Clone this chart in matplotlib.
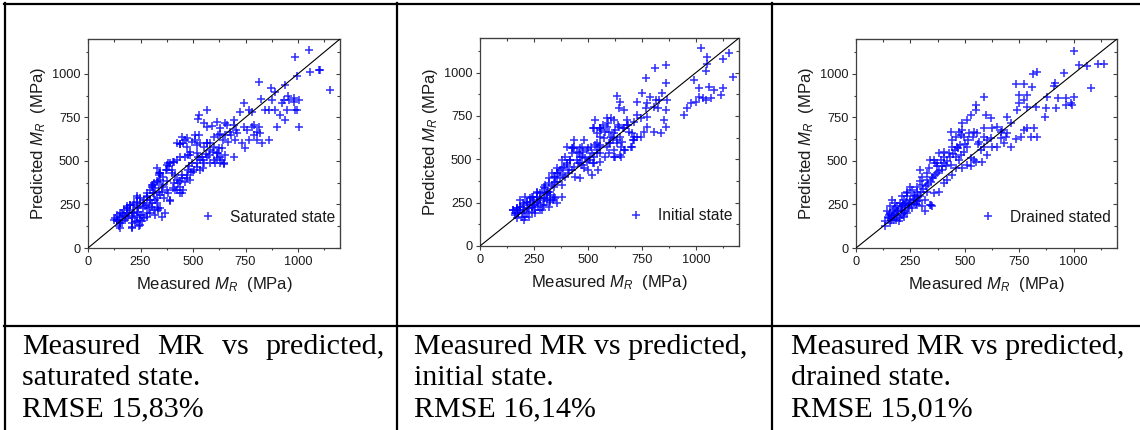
import matplotlib
matplotlib.use('Agg')
import matplotlib.pyplot as plt
from matplotlib.lines import Line2D
from matplotlib.ticker import MultipleLocator, FixedLocator

plt.rcParams['font.family'] = 'Liberation Sans'
plt.rcParams['mathtext.fontset'] = 'custom'
plt.rcParams['mathtext.rm'] = 'Liberation Sans'
plt.rcParams['mathtext.it'] = 'Liberation Sans:italic'

# ---------------- data (Measured MR, Predicted MR) in MPa ----------------
saturated_pts = [
    (1051, 1135), (987, 1097), (1059, 1011), (1098, 1021), (1106, 1021), (995, 987), (1154, 906),
    (813, 954), (870, 916), (940, 935), (890, 897), (825, 853), (876, 849), (952, 872), (955, 849),
    (979, 864), (1003, 849), (979, 840), (932, 849), (924, 830), (948, 792), (844, 792), (860, 792),
    (892, 792), (916, 763), (940, 735), (987, 792), (995, 792), (900, 697), (1003, 697),
    (741, 830), (765, 792), (725, 782), (694, 735), (781, 782), (662, 706), (694, 706), (706, 677),
    (741, 697), (781, 697), (789, 706), (813, 697), (757, 677), (805, 668), (789, 649), (821, 658),
    (765, 620), (805, 620), (749, 573), (733, 601), (829, 601), (860, 620), (710, 658), (683, 649),
    (654, 649), (627, 655), (598, 639), (567, 697), (524, 739), (554, 716), (567, 792), (530, 763),
    (590, 700), (614, 725), (630, 687), (654, 716), (678, 668), (702, 620), (694, 525), (654, 534),
    (638, 573), (622, 573), (598, 582), (583, 563), (614, 544), (563, 540), (543, 525), (535, 506),
    (519, 487), (551, 487), (598, 506), (575, 534), (630, 525), (646, 487), (503, 448), (479, 468),
    (490, 439), (448, 420), (471, 401), (440, 382), (424, 391), (408, 372), (416, 334), (448, 315),
    (376, 382), (352, 353), (337, 324), (360, 286), (392, 267), (344, 229), (321, 277), (313, 372),
    (305, 353), (337, 420), (344, 429), (376, 477), (408, 496), (392, 487), (463, 620), (440, 597),
    (471, 582), (448, 639), (424, 601), (463, 525), (487, 534), (519, 592), (527, 649), (511, 620),
    (487, 553), (551, 582), (567, 601), (424, 506), (440, 525), (400, 448), (370, 448), (384, 468),
    (329, 458), (337, 429), (344, 391), (329, 382), (305, 363), (313, 315), (281, 315), (297, 277),
    (265, 277), (249, 258), (233, 286), (217, 258), (273, 239), (289, 229), (233, 229), (202, 248),
    (186, 229), (170, 219), (154, 200), (138, 191), (146, 162), (162, 153), (186, 172), (210, 181),
    (210, 143), (233, 153), (249, 191), (217, 200), (194, 200), (178, 181), (154, 143), (146, 124),
    (210, 115), (265, 172), (281, 200), (313, 219), (329, 258), (305, 258), (257, 153), (241, 124),
    (233, 296), (281, 296), (186, 239), (162, 200), (130, 172), (138, 153), (122, 162),
    (509, 649), (470, 630), (438, 597), (454, 601), (494, 610), (533, 605), (565, 605), (581, 601),
    (620, 649), (644, 620), (668, 610), (597, 553), (620, 544), (613, 515), (637, 505), (581, 486),
    (605, 486), (629, 486), (648, 482), (549, 505), (565, 524), (518, 544), (525, 524), (478, 534),
    (494, 486), (518, 467), (533, 448), (549, 457), (478, 448), (502, 438), (470, 419), (486, 390),
    (446, 400), (462, 381), (438, 352), (454, 333), (430, 371), (406, 496), (383, 486), (375, 448),
    (398, 429), (414, 419), (343, 429), (359, 409), (335, 381), (359, 362), (375, 333), (351, 323),
    (390, 276), (383, 314), (406, 343), (422, 333), (438, 314), (311, 362), (295, 333), (311, 314),
    (280, 295), (295, 276), (327, 285), (319, 343), (343, 304), (248, 285), (232, 266), (263, 256),
    (216, 247), (240, 237), (263, 228), (280, 247), (303, 237), (335, 228), (200, 218), (184, 199),
    (168, 189), (152, 180), (137, 161), (152, 142), (176, 161), (208, 170), (232, 180), (256, 189),
    (280, 180), (224, 151), (248, 161), (200, 247), (184, 228), (216, 199), (240, 208), (295, 199),
    (319, 189), (335, 218), (351, 180), (367, 199), (208, 123), (152, 113), (248, 132),
]

initial_pts = [
    (1023, 1140), (1155, 1112), (1054, 1088), (1124, 1077), (1054, 1050), (1046, 1012), (992, 958),
    (1171, 977), (860, 1044), (811, 1025), (767, 967), (860, 938), (752, 881), (788, 858), (843, 885),
    (636, 865), (648, 833), (643, 794), (814, 842), (868, 842), (829, 842), (977, 823), (1016, 862),
    (1000, 833), (1016, 910), (1062, 919), (1085, 900), (1124, 910), (1031, 856), (961, 794),
    (946, 756), (1116, 871), (1046, 842), (1070, 852), (729, 833), (667, 785), (775, 823), (767, 794),
    (806, 804), (826, 794), (860, 785), (853, 727), (806, 660), (837, 650), (860, 688), (775, 746),
    (744, 737), (729, 756), (713, 717), (682, 698), (690, 660), (667, 679), (643, 688), (620, 727),
    (605, 737), (589, 688), (558, 679), (527, 679), (535, 727), (561, 669), (744, 631), (713, 631),
    (760, 660), (775, 688), (713, 612), (698, 573), (651, 573), (620, 554), (636, 612), (605, 631),
    (597, 592), (574, 621), (550, 573), (543, 535), (527, 515), (512, 573), (496, 554), (473, 515),
    (457, 535), (465, 563), (434, 573), (426, 535), (419, 496), (403, 477), (388, 458), (372, 438),
    (357, 419), (341, 400), (318, 362), (295, 342), (279, 304), (264, 285), (248, 265), (233, 256),
    (217, 246), (202, 237), (186, 227), (171, 217), (155, 208), (163, 188), (178, 188), (202, 208),
    (225, 217), (248, 237), (264, 256), (279, 265), (295, 275), (310, 304), (326, 313), (341, 342),
    (349, 371), (380, 352), (395, 400), (411, 438), (434, 458), (450, 496), (465, 477), (481, 448),
    (504, 496), (527, 477), (558, 535), (577, 515), (597, 535), (620, 515), (651, 515), (667, 554),
    (217, 188), (194, 169), (171, 160), (186, 265), (209, 285), (240, 285), (264, 313), (302, 352),
    (318, 390), (333, 419), (357, 448), (380, 496), (395, 515), (426, 563), (403, 573), (434, 612),
    (473, 573), (481, 612), (543, 592), (558, 631), (597, 660), (620, 650), (240, 227), (271, 227),
    (310, 265), (287, 208), (256, 188), (225, 169), (202, 150), (326, 265), (341, 285), (380, 285),
    (295, 237), (357, 246), (318, 227),
    (587, 737), (595, 708), (571, 698), (556, 679), (541, 650), (525, 679), (579, 660), (626, 669),
    (641, 698), (664, 679), (687, 698), (680, 727), (649, 631), (618, 621), (633, 593), (657, 602),
    (602, 593), (587, 573), (703, 650), (711, 612), (726, 631), (703, 573), (672, 554), (649, 525),
    (626, 515), (556, 583), (541, 554), (517, 535), (533, 583), (502, 564), (479, 544), (510, 515),
    (487, 506), (463, 515), (432, 564), (448, 544), (417, 496), (456, 477), (471, 467), (494, 486),
    (525, 477), (548, 438), (502, 438), (517, 410), (556, 486), (402, 467), (379, 448), (363, 419),
    (386, 410), (409, 419), (425, 438), (440, 400), (463, 391), (371, 391), (348, 400), (355, 371),
    (332, 352), (301, 333), (309, 304), (286, 313), (263, 304), (278, 275), (247, 284), (301, 275),
    (324, 294), (340, 265), (317, 313), (232, 275), (216, 256), (201, 246), (185, 227), (170, 217),
    (154, 208), (177, 189), (201, 198), (224, 217), (247, 237), (270, 246), (240, 198), (278, 208),
    (209, 169), (162, 179), (185, 208), (255, 208), (293, 237), (324, 256), (348, 275),
]

drained_pts = [
    (1000, 1132), (1111, 1059), (1141, 1059), (1023, 1050), (1061, 1044), (957, 1006), (1080, 916),
    (831, 1011), (815, 998), (734, 941), (772, 941), (811, 926), (788, 878), (750, 878), (911, 929),
    (880, 868), (929, 859), (965, 859), (914, 948), (988, 830), (995, 821), (1003, 868), (965, 821),
    (919, 802), (872, 802), (868, 754), (826, 811), (788, 811), (750, 830), (772, 849), (788, 687),
    (818, 687), (834, 639), (803, 639), (757, 639), (734, 624), (772, 677), (742, 792), (711, 716),
    (696, 754), (670, 677), (696, 658), (665, 668), (650, 697), (627, 687), (588, 687), (619, 744),
    (596, 763), (550, 821), (588, 868), (553, 792), (527, 763), (512, 735), (488, 716), (488, 677),
    (519, 658), (542, 668), (558, 658), (565, 611), (588, 639), (619, 630), (650, 582), (627, 582),
    (665, 630), (680, 601), (711, 582), (688, 639), (604, 534), (581, 496), (550, 496), (527, 515),
    (512, 582), (496, 553), (481, 534), (458, 525), (465, 582), (442, 620), (458, 639), (481, 649),
    (496, 639), (435, 668), (473, 668), (442, 582), (427, 544), (404, 525), (389, 506), (373, 487),
    (358, 506), (381, 544), (404, 553), (412, 468), (396, 448), (373, 429), (350, 410), (327, 391),
    (304, 363), (281, 324), (266, 305), (250, 277), (227, 248), (212, 239), (189, 210), (166, 191),
    (150, 172), (135, 153), (135, 124), (158, 200), (181, 229), (204, 258), (220, 277), (235, 296),
    (235, 324), (258, 334), (281, 353), (296, 382), (304, 410), (327, 429), (335, 458), (342, 506),
    (365, 487), (373, 468), (342, 248), (319, 277), (304, 239), (281, 267), (258, 229), (235, 200),
    (212, 191), (189, 181), (173, 162), (158, 143), (196, 153), (220, 200), (243, 229), (266, 258),
    (296, 296), (327, 324), (358, 315), (381, 324), (404, 372), (419, 391), (442, 420), (458, 458),
    (488, 458), (512, 477), (527, 468), (542, 506), (473, 506), (435, 477), (158, 239), (143, 210),
    (181, 258), (212, 296), (235, 315), (166, 277), (250, 353), (296, 448), (281, 248), (319, 210),
    (350, 239), (345, 248),
    (150, 190), (165, 175), (180, 200), (195, 215), (205, 230), (215, 255), (230, 265), (245, 250),
    (260, 280), (270, 300), (285, 290), (300, 320), (310, 340), (320, 355), (330, 370), (345, 380),
    (355, 400), (365, 420), (380, 440), (395, 470), (405, 490), (420, 500), (430, 520), (445, 540),
    (455, 560), (470, 575), (480, 590), (500, 600), (515, 620), (540, 640), (560, 600), (575, 560),
    (590, 580), (600, 620), (170, 220), (190, 240), (210, 220), (225, 210), (240, 240), (255, 260),
    (275, 250), (290, 270), (200, 170), (220, 180), (185, 160), (160, 160), (145, 180), (175, 190),
]

states = ["Saturated state", "Initial state", "Drained stated"]
y_labels = [r"Predicted $M_R$  (MPa)", r"Predicted $M_R$ (MPa)", r"Predicted $M_R$  (MPa)"]
x_label = r"Measured $M_R$  (MPa)"
captions = [
    ["Measured MR vs predicted,", "saturated state.", "RMSE 15,83%"],
    ["Measured MR vs predicted,", "initial state.", "RMSE 16,14%"],
    ["Measured MR vs predicted,", "drained state.", "RMSE 15,01%"],
]
axis_range = [0, 1200]
major_ticks = [0, 250, 500, 750, 1000]
series = [saturated_pts, initial_pts, drained_pts]

# ---------------- layout (pixels) ----------------
W, H = 1140, 430
fig = plt.figure(figsize=(W / 100, H / 100), dpi=100)

def fx(px):
    return px / W

def fy(py):
    return 1 - py / H

axes_px = [(88, 39, 340, 248), (480, 38, 739, 246), (856, 39, 1117, 248)]
legend_off = [(5, 31), (7, 30), (6, 31)]
caption_left = [22, 414, 791]
justify_right = [385, None, None]

spine_col = '#404040'
text_col = '#1a1a1a'

for i, (l, t, r, b) in enumerate(axes_px):
    ax = fig.add_axes([fx(l), fy(b), (r - l) / W, (b - t) / H])
    pts = series[i]
    xs = [p[0] for p in pts]
    ys = [p[1] for p in pts]
    ax.plot(axis_range, axis_range, color='black', lw=0.8, zorder=3)
    line, = ax.plot(xs, ys, linestyle='none', marker='+', color='#0000ff',
                    ms=5.5, mew=1.15, alpha=0.8, zorder=2, label=states[i])
    ax.set_xlim(axis_range)
    ax.set_ylim(axis_range)
    ax.xaxis.set_major_locator(FixedLocator(major_ticks))
    ax.yaxis.set_major_locator(FixedLocator(major_ticks))
    ax.xaxis.set_minor_locator(MultipleLocator(125))
    ax.yaxis.set_minor_locator(MultipleLocator(125))
    ax.tick_params(which='major', direction='out', length=3, width=0.8, color=spine_col,
                   labelsize=9.2, labelcolor=text_col, pad=2.5)
    ax.tick_params(which='minor', direction='out', length=1.6, width=0.8, color=spine_col)
    for s in ax.spines.values():
        s.set_color(spine_col)
        s.set_linewidth(0.9)
    # mirrored inward ticks on top / right
    secx = ax.secondary_xaxis('top')
    secx.xaxis.set_major_locator(FixedLocator(major_ticks))
    secx.xaxis.set_minor_locator(MultipleLocator(125))
    secx.tick_params(which='both', direction='in', labeltop=False, color=spine_col, width=0.8)
    secx.tick_params(which='major', length=3)
    secx.tick_params(which='minor', length=2)
    secx.spines['top'].set_color(spine_col)
    secy = ax.secondary_yaxis('right')
    secy.yaxis.set_major_locator(FixedLocator(major_ticks))
    secy.yaxis.set_minor_locator(MultipleLocator(125))
    secy.tick_params(which='both', direction='in', labelright=False, color=spine_col, width=0.8)
    secy.tick_params(which='major', length=3)
    secy.tick_params(which='minor', length=2)
    secy.spines['right'].set_color(spine_col)

    ax.set_xlabel(x_label, fontsize=12, color=text_col, labelpad=5)
    ax.set_ylabel(y_labels[i], fontsize=12, color=text_col, labelpad=2.5)

    ro, bo = legend_off[i]
    ax.legend(handles=[line], loc='center right',
              bbox_to_anchor=(1 - ro / (r - l), bo / (b - t)),
              frameon=False, fontsize=11.2, handlelength=1.0, handletextpad=0.9,
              borderaxespad=0, borderpad=0, numpoints=1, labelcolor=text_col)

# ---------------- table lines ----------------
tlw = 1.6
def hline(y, x0, x1):
    fig.add_artist(Line2D([fx(x0), fx(x1)], [fy(y), fy(y)], color='black', lw=tlw))

def vline(x, y0, y1):
    fig.add_artist(Line2D([fx(x), fx(x)], [fy(y0), fy(y1)], color='black', lw=tlw))

hline(4, 4, W)
hline(326, 4, W)
for xv in (5, 397, 772):
    vline(xv, 3, H)

# ---------------- captions ----------------
cap_fs = 21.6
baselines = [354, 385, 416]
fig.canvas.draw()
renderer = fig.canvas.get_renderer()
for i, lines in enumerate(captions):
    for j, txt in enumerate(lines):
        if j == 0 and justify_right[i] is not None:
            words = txt.split(' ')
            objs = [fig.text(0, fy(baselines[j]), w, fontsize=cap_fs, family='Liberation Serif',
                             va='baseline', ha='left', color='black') for w in words]
            widths = [o.get_window_extent(renderer).width for o in objs]
            total = justify_right[i] - caption_left[i]
            gap = (total - sum(widths)) / (len(words) - 1)
            xcur = caption_left[i]
            for o, wd in zip(objs, widths):
                o.set_x(fx(xcur))
                xcur += wd + gap
        else:
            fig.text(fx(caption_left[i]), fy(baselines[j]), txt, fontsize=cap_fs,
                     family='Liberation Serif', va='baseline', ha='left', color='black')

fig.savefig('out.png', dpi=100, facecolor='white')
